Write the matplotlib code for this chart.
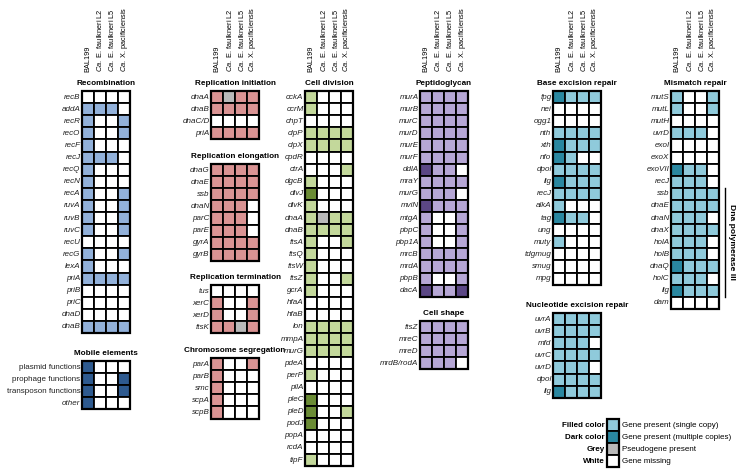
import matplotlib
matplotlib.use("Agg")
import matplotlib.pyplot as plt
from matplotlib.patches import Rectangle

plt.rcParams['font.family'] = ['Liberation Sans', 'DejaVu Sans']
plt.rcParams['mathtext.fontset'] = 'custom'
plt.rcParams['mathtext.it'] = 'Liberation Sans:italic'
plt.rcParams['mathtext.rm'] = 'Liberation Sans'

# 0 = missing, 1 = single copy, 2 = multiple copies, 3 = pseudogene
species = ['BAL199', r'$\it{Ca.}$ E. faulkneri L2', r'$\it{Ca.}$ E. faulkneri L5',
           r'$\it{Ca.}$ X. pacificiensis']

recomb_genes = ['recB', 'addA', 'recR', 'recO', 'recF', 'recJ', 'recQ', 'recN', 'recA', 'ruvA',
                'ruvB', 'ruvC', 'recU', 'recG', 'lexA', 'priA', 'priB', 'priC', 'dnaD', 'dnaB']
recomb_vals = [[0, 0, 0, 0], [1, 1, 1, 0], [1, 0, 0, 1], [1, 0, 0, 1], [1, 0, 0, 0],
               [1, 1, 1, 0], [1, 0, 0, 0], [1, 0, 0, 0], [1, 0, 0, 1], [1, 0, 0, 1],
               [1, 0, 0, 1], [1, 0, 0, 1], [0, 0, 0, 0], [1, 0, 0, 1], [1, 0, 0, 0],
               [1, 1, 1, 1], [0, 0, 0, 0], [0, 0, 0, 0], [0, 0, 0, 0], [1, 1, 1, 1]]

mobile_genes = ['plasmid functions', 'prophage functions', 'transposon functions', 'other']
mobile_vals = [[2, 0, 0, 0], [2, 0, 0, 2], [2, 0, 0, 2], [2, 0, 0, 0]]

init_genes = ['dnaA', 'dnaB', 'dnaC/D', 'priA']
init_vals = [[1, 3, 1, 1], [1, 1, 1, 1], [0, 0, 0, 0], [1, 1, 1, 1]]

elong_genes = ['dnaG', 'dnaE', 'ssb', 'dnaN', 'parC', 'parE', 'gyrA', 'gyrB']
elong_vals = [[1, 1, 1, 1], [1, 1, 1, 1], [1, 1, 1, 1], [1, 1, 1, 0],
              [1, 1, 1, 0], [1, 1, 1, 0], [1, 1, 1, 1], [1, 1, 1, 1]]

term_genes = ['tus', 'xerC', 'xerD', 'ftsK']
term_vals = [[0, 0, 0, 0], [1, 0, 0, 1], [1, 0, 0, 1], [1, 1, 3, 1]]

segr_genes = ['parA', 'parB', 'smc', 'scpA', 'scpB']
segr_vals = [[1, 0, 0, 1], [1, 0, 0, 0], [1, 0, 0, 0], [1, 0, 0, 0], [1, 0, 0, 0]]

div_genes = ['cckA', 'ccrM', 'chpT', 'clpP', 'clpX', 'cpdR', 'ctrA', 'dgcB', 'divJ', 'divK',
             'dnaA', 'dnaB', 'ftsA', 'ftsQ', 'ftsW', 'ftsZ', 'gcrA', 'hfaA', 'hfaB', 'lon',
             'mmpA', 'murG', 'pdeA', 'perP', 'pilA', 'pleC', 'pleD', 'podJ', 'popA', 'rcdA',
             'tipF']
div_vals = [[1, 0, 0, 0], [1, 0, 0, 0], [0, 0, 0, 0], [1, 1, 1, 1], [1, 1, 1, 1],
            [0, 0, 0, 0], [0, 0, 0, 1], [1, 0, 0, 0], [2, 0, 0, 0], [1, 0, 0, 0],
            [1, 3, 1, 1], [1, 1, 1, 1], [1, 0, 0, 1], [1, 0, 0, 0], [1, 0, 0, 0],
            [1, 0, 0, 1], [1, 0, 0, 0], [0, 0, 0, 0], [0, 0, 0, 0], [1, 1, 1, 1],
            [1, 1, 1, 1], [1, 1, 1, 1], [0, 0, 0, 0], [1, 0, 0, 0], [0, 0, 0, 0],
            [2, 0, 0, 0], [2, 0, 0, 1], [2, 0, 0, 0], [0, 0, 0, 0], [0, 0, 0, 0],
            [1, 0, 0, 0]]

pg_genes = ['murA', 'murB', 'murC', 'murD', 'murE', 'murF', 'ddlA', 'mraY', 'murG', 'mviN',
            'mtgA', 'pbpC', 'pbp1A', 'mrcB', 'mrdA', 'pbpB', 'dacA']
pg_vals = [[1, 1, 1, 1], [1, 1, 1, 1], [1, 1, 1, 1], [1, 1, 1, 1], [1, 1, 1, 1],
           [1, 1, 1, 1], [2, 1, 1, 0], [1, 1, 1, 1], [1, 1, 1, 0], [2, 1, 1, 1],
           [1, 0, 0, 1], [1, 0, 0, 1], [1, 0, 0, 1], [1, 1, 1, 1], [1, 1, 1, 1],
           [1, 0, 0, 1], [2, 1, 1, 2]]

shape_genes = ['ftsZ', 'mreC', 'mreD', 'mrdB/rodA']
shape_vals = [[1, 1, 1, 1], [1, 1, 1, 1], [1, 1, 1, 1], [1, 1, 1, 0]]

ber_genes = ['fpg', 'nei', 'ogg1', 'nth', 'xth', 'nfo', 'dpol', 'lig', 'recJ', 'alkA', 'tag',
             'ung', 'muty', 'tdgmug', 'smug', 'mpg']
ber_vals = [[2, 1, 1, 1], [0, 0, 0, 0], [0, 0, 0, 0], [1, 1, 1, 1], [2, 1, 1, 1],
            [2, 1, 0, 0], [1, 1, 1, 1], [2, 1, 1, 1], [1, 1, 1, 1], [1, 0, 0, 0],
            [2, 1, 1, 0], [0, 0, 0, 0], [1, 0, 0, 0], [0, 0, 0, 0], [0, 0, 0, 0],
            [0, 0, 0, 0]]

ner_genes = ['uvrA', 'uvrB', 'mfd', 'uvrC', 'uvrD', 'dpol', 'lig']
ner_vals = [[1, 1, 1, 1], [1, 1, 1, 1], [1, 1, 1, 0], [1, 1, 1, 1], [1, 1, 1, 0],
            [1, 1, 1, 1], [2, 1, 1, 1]]

mmr_genes = ['mutS', 'mutL', 'mutH', 'uvrD', 'exoI', 'exoX', 'exoVII', 'recJ', 'ssb', 'dnaE',
             'dnaN', 'dnaX', 'holA', 'holB', 'dnaQ', 'holC', 'lig', 'dam']
mmr_vals = [[1, 0, 0, 1], [1, 0, 0, 1], [0, 0, 0, 0], [1, 1, 1, 0], [0, 0, 0, 0],
            [0, 0, 0, 0], [2, 1, 1, 0], [1, 1, 1, 0], [1, 1, 1, 1], [1, 1, 1, 1],
            [1, 1, 1, 0], [1, 1, 1, 1], [1, 1, 1, 0], [1, 1, 1, 0], [2, 1, 1, 1],
            [1, 1, 1, 0], [2, 1, 1, 1], [0, 0, 0, 0]]

palettes = {
    'blue': ('#92b1da', '#2e5a8f'),
    'red': ('#d99393', '#a04848'),
    'green': ('#c3d89b', '#6b8c35'),
    'purple': ('#b6a7d5', '#5b4785'),
    'teal': ('#8fcadb', '#2a87a0'),
}
grey = '#b9b9b9'

# (title, genes, values, palette, grid left, grid top)
sections = [
    ('Recombination', recomb_genes, recomb_vals, 'blue', 82, 91),
    ('Mobile elements', mobile_genes, mobile_vals, 'blue', 82, 361),
    ('Replication initiation', init_genes, init_vals, 'red', 211, 91),
    ('Replication elongation', elong_genes, elong_vals, 'red', 211, 164),
    ('Replication termination', term_genes, term_vals, 'red', 211, 285),
    ('Chromosome segregation', segr_genes, segr_vals, 'red', 211, 358),
    ('Cell division', div_genes, div_vals, 'green', 305, 91),
    ('Peptidoglycan', pg_genes, pg_vals, 'purple', 420, 91),
    ('Cell shape', shape_genes, shape_vals, 'purple', 420, 321),
    ('Base excision repair', ber_genes, ber_vals, 'teal', 553, 91),
    ('Nucleotide excision repair', ner_genes, ner_vals, 'teal', 553, 313),
    ('Mismatch repair', mmr_genes, mmr_vals, 'teal', 671, 91),
]
header_lefts = [82, 211, 305, 420, 553, 671]

cw, ch = 12.0, 12.1

fig = plt.figure(figsize=(7.36, 4.74), dpi=100)
ax = fig.add_axes([0, 0, 1, 1])
ax.set_xlim(0, 736)
ax.set_ylim(474, 0)
ax.axis('off')


def cell_color(v, pal):
    light, dark = palettes[pal]
    return ['white', light, dark, grey][v]


for title, genes, vals, pal, x0, y0 in sections:
    for i, (g, row) in enumerate(zip(genes, vals)):
        y = y0 + i * ch
        for j, v in enumerate(row):
            ax.add_patch(Rectangle((x0 + j * cw, y), cw, ch, facecolor=cell_color(v, pal),
                                   edgecolor='black', lw=1.3))
        italic = 'italic' if ' ' not in g else 'normal'
        ax.text(x0 - 1.5, y + ch / 2, g, ha='right', va='center', fontsize=5.8,
                style=italic, color='#222222')
    ax.add_patch(Rectangle((x0, y0), cw * 4, ch * len(genes), fill=False,
                           edgecolor='black', lw=1.6))
    ax.text(x0 + cw * 2, y0 - 4, title, ha='center', va='bottom', fontsize=5.9,
            fontweight='bold')

for x0 in header_lefts:
    for j, s in enumerate(species):
        ax.text(x0 + j * cw + cw / 2, 72, s, rotation=90, ha='center', va='bottom',
                fontsize=5.3)

# Dna polymerase III bracket
mx0, my0 = 671, 91
i1 = mmr_genes.index('ssb')
i2 = mmr_genes.index('lig')
ax.plot([725, 725], [my0 + i1 * ch, my0 + (i2 + 1) * ch], color='black', lw=1)
ax.text(731, my0 + (i1 + i2 + 1) / 2 * ch, 'Dna polymerase III', rotation=-90,
        ha='center', va='center', fontsize=6.1, fontweight='bold')

# legend
leg_labels = ['Filled color', 'Dark color', 'Grey', 'White']
leg_desc = ['Gene present (single copy)', 'Gene present (multiple copies)',
            'Pseudogene present', 'Gene missing']
leg_colors = [palettes['teal'][0], palettes['teal'][1], grey, 'white']
lx, ly = 607, 419
for k, (lab, desc, c) in enumerate(zip(leg_labels, leg_desc, leg_colors)):
    y = ly + k * ch
    ax.add_patch(Rectangle((lx, y), cw, ch, facecolor=c, edgecolor='black', lw=1.3))
    ax.text(lx - 2, y + ch / 2, lab, ha='right', va='center', fontsize=5.8, fontweight='bold')
    ax.text(lx + cw + 3, y + ch / 2, desc, ha='left', va='center', fontsize=5.8)
ax.add_patch(Rectangle((lx, ly), cw, ch * 4, fill=False, edgecolor='black', lw=1.6))

fig.savefig('out.png', dpi=100)
